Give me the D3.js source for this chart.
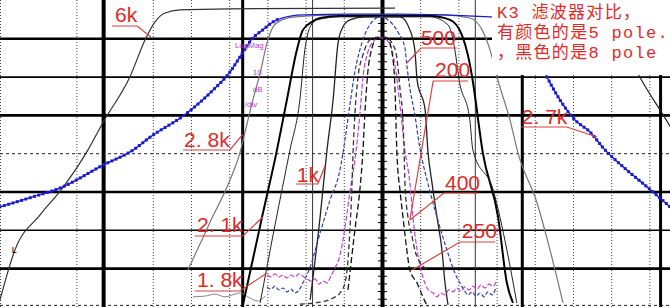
<!DOCTYPE html>
<html>
<head>
<meta charset="utf-8">
<script src="https://cdn.jsdelivr.net/npm/d3@7"></script>
<style>
body{margin:0;background:#fff;}
svg{display:block;}
</style>
</head>
<body>
<svg id="chart" width="670" height="307"></svg>
<script>
var width = 670, height = 307

// x = offset from centre in graticule divisions, y = dB
var xDotted = [-10,-8,-6,-5,-4,-3,-2,-1,1,2,3,4,5,6,7]
var xThick = [-7.3,-3.66,0,3.66,7.28]
var xThin = [-1.83,2.43]
var ySolid = [-10,-20,-30,-50,-60,-70]
var yDotted = [-40,-79.6]

// 8 pole (black)
var k6k = [[-10,-78.3],[-9.61,-65.3],[-8.95,-56.1],[-8.38,-49.3],[-7.70,-39.2],[-7.30,-31.9],[-6.60,-20.1],[-6.18,-9.9],[-5.94,-5.7],[-5.68,-3.4],[-5.29,-2.6],[-3.98,-2.3],[0.34,-2.1]]
var k6kRight = [[5.71,-2.6],[6.10,-6.5],[6.75,-20.1],[7.36,-30.0],[7.93,-39.2]]
var k28k = [[-5.08,-70.5],[-4.50,-58.0],[-3.98,-47.0],[-3.72,-39.9],[-3.59,-34.7],[-3.38,-26.1],[-3.19,-19.1],[-3.01,-11.2],[-2.85,-7.0],[-2.62,-5.2],[-2.28,-4.4],[-1.10,-3.9],[1.52,-3.9],[2.30,-4.7],[2.62,-7.8],[2.83,-13.1],[3.01,-20.1],[3.35,-31.3],[3.56,-39.9],[4.06,-53.0],[4.40,-65.3],[4.74,-79.1]]
var k21k = [[-3.64,-79.6],[-3.14,-56.7],[-2.75,-39.2],[-2.49,-26.1],[-2.23,-13.1],[-2.07,-7.8],[-1.83,-5.7],[-1.62,-4.7],[-1.10,-4.2],[1.26,-4.2],[1.78,-5.2],[2.09,-9.1],[2.25,-14.4],[2.36,-20.1],[2.64,-39.9],[3.04,-56.7],[3.27,-73.9],[3.43,-79.1]]
var k18k = [[-3.19,-79.1],[-2.80,-58.7],[-2.41,-39.2],[-2.15,-26.1],[-2.02,-13.1],[-1.88,-7.0],[-1.70,-5.2],[-1.10,-4.4],[1.26,-4.4],[1.73,-6.5],[1.91,-13.1],[2.02,-20.9],[2.30,-31.3],[2.38,-39.2],[2.91,-49.6],[3.27,-65.3],[3.53,-79.1]]
var k1k = [[-1.88,-78.3],[-1.62,-56.7],[-1.44,-39.2],[-1.28,-26.1],[-1.15,-11.2],[-1.02,-7.0],[-0.84,-5.2],[-0.45,-4.4],[0.47,-4.4],[0.73,-7.8],[0.86,-13.1],[0.92,-20.9],[1.13,-28.7],[1.20,-39.2],[1.31,-47.8],[1.44,-56.7],[1.57,-65.3],[1.65,-73.9],[1.73,-79.6]]
var k400 = [[-2.15,-79.4],[-1.62,-78.9],[-1.28,-77.8],[-1.10,-76.5],[-0.97,-73.9],[-0.89,-67.9],[-0.84,-60.1],[-0.79,-49.6],[-0.76,-40.5],[-0.71,-30.0],[-0.63,-20.4],[-0.50,-14.4],[-0.31,-10.4],[-0.10,-9.7],[0.08,-9.7],[0.29,-11.7],[0.39,-15.1],[0.47,-23.0],[0.55,-31.9],[0.58,-39.7],[0.60,-47.8],[0.68,-56.7],[0.79,-61.9],[0.86,-65.3],[0.99,-68.4],[1.20,-70.5]]
var k250 = [[-0.89,-75.7],[-0.71,-60.1],[-0.58,-49.6],[-0.50,-39.7],[-0.45,-30.0],[-0.37,-18.8],[-0.26,-12.5],[-0.13,-9.9],[0.13,-9.9],[0.26,-13.6],[0.34,-23.0],[0.39,-39.7],[0.47,-49.6],[0.55,-56.7],[0.65,-65.3],[0.73,-70.5],[0.92,-73.9],[1.07,-77.5],[1.20,-80.2]]
var floorGray = [[-4.95,-77.5],[-4.63,-77.3],[-4.37,-76.8],[-4.11,-77.5],[-3.72,-76.5],[-3.46,-77.8],[-3.25,-78.6],[-3.06,-77.3]]

// 5 pole (coloured)
var b27k = [[-10,-54.0],[-9.14,-51.4],[-8.43,-49.1],[-7.30,-43.1],[-6.52,-39.2],[-6.07,-35.8],[-5.10,-29.5],[-4.42,-23.5],[-3.98,-18.8],[-3.72,-14.9],[-3.38,-9.9],[-3.12,-7.8],[-2.85,-5.7],[-2.62,-4.7],[-2.07,-3.9],[-0.84,-3.7],[0.47,-3.7],[2.83,-4.4],[3.61,-7.8],[4.00,-13.1],[4.32,-20.1],[4.66,-26.1],[5.05,-31.3],[5.45,-34.5],[5.79,-38.6],[6.41,-44.4],[6.94,-48.8],[7.54,-54.0]]
var b500 = [[-3.01,-74.9],[-2.91,-75.5],[-2.80,-74.7],[-2.70,-75.7],[-2.59,-75.2],[-2.49,-76.2],[-2.38,-75.5],[-2.28,-76.5],[-2.17,-75.7],[-2.07,-73.9],[-1.88,-69.7],[-1.62,-60.8],[-1.36,-52.2],[-1.10,-44.4],[-0.97,-36.6],[-0.84,-27.4],[-0.71,-18.8],[-0.52,-11.0],[-0.26,-5.7],[-0.05,-4.4],[0.16,-5.2],[0.42,-8.4],[0.60,-12.5],[0.65,-17.0],[0.73,-23.0],[0.86,-30.0],[0.99,-38.6],[1.20,-47.8],[1.44,-56.7],[1.70,-65.3],[1.91,-71.3],[2.04,-73.9],[2.15,-75.7],[2.25,-77.0],[2.36,-76.2],[2.46,-77.3],[2.57,-76.5],[2.67,-77.5],[2.77,-76.2],[2.88,-77.0],[2.98,-75.2]]
var m400 = [[-3.01,-71.8],[-2.91,-72.3],[-2.80,-71.5],[-2.70,-72.3],[-2.59,-71.8],[-2.49,-72.6],[-2.38,-71.8],[-2.28,-72.3],[-2.17,-71.5],[-2.07,-72.1],[-1.96,-72.8],[-1.86,-73.4],[-1.75,-72.8],[-1.65,-74.2],[-1.54,-73.4],[-1.44,-73.9],[-1.34,-72.1],[-1.23,-70.0],[-1.10,-66.6],[-0.97,-59.5],[-0.84,-50.1],[-0.71,-41.8],[-0.58,-30.0],[-0.50,-20.4],[-0.37,-13.6],[-0.24,-11.0],[-0.10,-9.9],[0.03,-9.9],[0.21,-11.7],[0.34,-17.0],[0.47,-27.4],[0.60,-39.2],[0.73,-47.8],[0.81,-56.7],[0.92,-65.3],[1.07,-72.3],[1.20,-75.5],[1.34,-76.5],[1.44,-77.5],[1.54,-76.5],[1.65,-77.0],[1.75,-75.7],[1.86,-76.2],[1.96,-75.2],[2.07,-76.0],[2.17,-74.9],[2.28,-75.7],[2.38,-74.7],[2.49,-75.5],[2.59,-74.4],[2.70,-75.2],[2.80,-74.2],[2.91,-74.7],[3.01,-73.1]]

var labelTexts = ['6k','2. 8k','2. 1k','1. 8k','1k','500','200','400','250','2. 7k']
var noteLines = ['K3 滤波器对比，','有颜色的是5 pole.','，黑色的是8 pole']
var scaleTexts = ['LogMag','10','dB','/div']

var x = d3.scaleLinear().domain([-10, 7.54]).range([0, width])
var y = d3.scaleLinear().domain([0, -80]).range([0, 306.4])

var svg = d3.select('#chart')
svg.append('rect').attr('width', width).attr('height', height).attr('fill', '#fff')

// graticule
var gx = svg.append('g').attr('transform', 'translate(0,' + height + ')')
    .call(d3.axisTop(x).tickValues(xDotted).tickSize(height).tickFormat(''))
gx.select('.domain').remove()
gx.selectAll('line').attr('stroke', '#444').attr('stroke-dasharray', '1,2')

var gy = svg.append('g')
    .call(d3.axisRight(y).tickValues(ySolid).tickSize(width).tickFormat(''))
gy.select('.domain').remove()
gy.selectAll('line').attr('stroke', '#000').attr('stroke-width', function(d){
    return (d == -20 || d == -60) ? 1.6 : 2.6
})

var gyd = svg.append('g')
    .call(d3.axisRight(y).tickValues(yDotted).tickSize(width).tickFormat(''))
gyd.select('.domain').remove()
gyd.selectAll('line').attr('stroke', '#222').attr('stroke-dasharray', '3,3')

var gthin = svg.append('g').attr('transform', 'translate(0,' + height + ')')
    .call(d3.axisTop(x).tickValues(xThin).tickSize(height).tickFormat(''))
gthin.select('.domain').remove()
gthin.selectAll('line').attr('stroke', '#333').attr('stroke-width', 1)

var gthick = svg.append('g').attr('transform', 'translate(0,' + height + ')')
    .call(d3.axisTop(x).tickValues(xThick).tickSize(height).tickFormat(''))
gthick.select('.domain').remove()
gthick.selectAll('line').attr('stroke', '#000').attr('stroke-width', function(d){
    return (d == 0 || d == -7.3) ? 4 : 3
})

var cR = svg.append('g').attr('transform', 'translate(' + (x(0) + 1) + ',0)')
    .call(d3.axisRight(y).tickValues(d3.range(-4, -80, -2)).tickSize(4).tickFormat(''))
cR.select('.domain').remove()
cR.selectAll('line').attr('stroke', '#000')
var cL = svg.append('g').attr('transform', 'translate(' + (x(0) - 1) + ',0)')
    .call(d3.axisLeft(y).tickValues(d3.range(-4, -80, -2)).tickSize(3).tickFormat(''))
cL.select('.domain').remove()
cL.selectAll('line').attr('stroke', '#000')

// curves
var series = [
    {data: floorGray, color: '#888', w: 1, dash: null},
    {data: k6k, color: '#333', w: 1.2, dash: null},
    {data: k6kRight, color: '#222', w: 1.2, dash: null},
    {data: k28k, color: '#777', w: 1.2, dash: null},
    {data: b27k, color: '#1a1ad0', w: 1.3, dash: null},
    {data: k21k, color: '#000', w: 2, dash: null},
    {data: k18k, color: '#222', w: 1, dash: null},
    {data: k1k, color: '#222', w: 1.3, dash: null},
    {data: b500, color: '#3040a8', w: 1.2, dash: '4,2'},
    {data: m400, color: '#c040d0', w: 1.2, dash: '5,2'},
    {data: k400, color: '#333', w: 1.3, dash: '5,3'},
    {data: k250, color: '#111', w: 1.3, dash: '6,3'}
]

var line = d3.line()
    .x(function(d){ return x(d[0]) })
    .y(function(d){ return y(d[1]) })
    .curve(d3.curveMonotoneX)

var paths = svg.append('g').selectAll('path').data(series).enter()
    .append('path')
    .attr('d', function(d){ return line(d.data) })
    .attr('fill', 'none')
    .attr('stroke', function(d){ return d.color })
    .attr('stroke-width', function(d){ return d.w })
    .attr('stroke-dasharray', function(d){ return d.dash })

// square markers along the sloped parts of the 2.7k trace
var bluePath = paths.filter(function(d){ return d.data === b27k }).node()
var total = bluePath.getTotalLength()
var marks = []
for(var s = 0; s < total; s += 4.5){
    var p = bluePath.getPointAtLength(s)
    if(p.x < x(-2.7) || p.x > x(3.4)) marks.push(p)
}
svg.append('g').selectAll('rect').data(marks).enter()
    .append('rect')
    .attr('x', function(d){ return d.x - 1.5 })
    .attr('y', function(d){ return d.y - 1.5 })
    .attr('width', 3)
    .attr('height', 3)
    .attr('fill', '#1a1ad0')

// analyser scale text
var scalePos = [[-3.85,-12.5],[-3.38,-19.6],[-3.38,-24.0],[-3.59,-27.9]]
svg.append('g').selectAll('text').data(scaleTexts).enter()
    .append('text')
    .attr('x', function(d,i){ return x(scalePos[i][0]) })
    .attr('y', function(d,i){ return y(scalePos[i][1]) })
    .attr('font-family', 'Liberation Sans')
    .attr('font-size', '8px')
    .attr('fill', '#c040c0')
    .text(function(d){ return d })

svg.append('text')
    .attr('x', x(-9.69)).attr('y', y(-66.1))
    .attr('font-family', 'Liberation Sans').attr('font-size', '9px')
    .attr('fill', '#000').text('L')

// note box
svg.append('rect')
    .attr('x', x(2.88)).attr('y', y(0))
    .attr('width', x(7.54) - x(2.88)).attr('height', y(-19.6) - y(0))
    .attr('fill', '#fff')

svg.append('g').selectAll('text').data(noteLines).enter()
    .append('text')
    .attr('x', x(3.01))
    .attr('y', function(d,i){ return y(-4.7 - i * 5.22) })
    .attr('font-family', '"Liberation Mono", "Noto Sans CJK SC"')
    .attr('font-size', '17px')
    .attr('letter-spacing', '1.3px')
    .attr('fill', '#e02a2a')
    .text(function(d){ return d })

// red labels: text pos, underline x0/x1/y, leader end, leader from right end?
var labelPos = [
    {t: [-6.99,-5.74], u: [-7.07,-6.41,-6.79], e: [-6.05,-9.66], r: true},
    {t: [-5.18,-38.38], u: [-5.21,-3.98,-39.16], e: [-3.64,-34.99], r: true},
    {t: [-4.84,-60.57], u: [-4.90,-3.64,-61.62], e: [-3.12,-56.66], r: true},
    {t: [-4.84,-74.93], u: [-4.90,-3.72,-75.98], e: [-3.01,-71.28], r: true},
    {t: [-2.23,-47.52], u: [-2.25,-1.68,-48.04], e: [-1.49,-43.34], r: true},
    {t: [1.02,-11.75], u: [1.02,1.96,-12.53], e: [0.65,-16.45], r: false},
    {t: [1.39,-20.1], u: [1.34,2.25,-21.15], e: [0.73,-57.44], r: false},
    {t: [1.65,-49.61], u: [1.62,2.51,-50.39], e: [0.73,-57.44], r: false},
    {t: [2.09,-62.14], u: [2.04,2.96,-63.19], e: [0.79,-70.50], r: false},
    {t: [3.66,-32.38], u: [3.64,4.84,-33.16], e: [5.63,-35.77], r: true}
]

var lab = svg.append('g').selectAll('g').data(labelTexts).enter().append('g')
lab.append('polyline')
    .attr('points', function(d,i){
        var p = labelPos[i]
        var a = p.r ? p.u[0] : p.u[1]
        var b = p.r ? p.u[1] : p.u[0]
        return [x(a), y(p.u[2]), x(b), y(p.u[2]), x(p.e[0]), y(p.e[1])].join(' ')
    })
    .attr('fill', 'none')
    .attr('stroke', '#d84040')
    .attr('stroke-width', 1.2)
lab.append('text')
    .attr('x', function(d,i){ return x(labelPos[i].t[0]) })
    .attr('y', function(d,i){ return y(labelPos[i].t[1]) })
    .attr('font-family', 'Liberation Sans')
    .attr('font-size', '21px')
    .attr('fill', '#e02a2a')
    .text(function(d){ return d })
</script>
</body>
</html>
